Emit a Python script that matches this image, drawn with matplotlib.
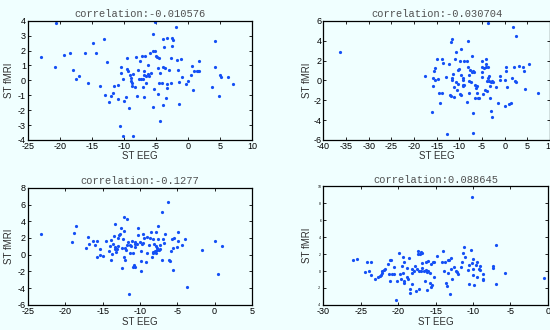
"""Four ST EEG vs ST fMRI scatter panels with correlation titles."""

import matplotlib
matplotlib.use("Agg")
import matplotlib.pyplot as plt

BG = "#f0ffff"
DOT = "#1450f5"

# panel 1
eeg1 = [-22.9, -20.6, -20.8, -19.4, -18.4, -17.9, -17.5, -17.1, -15.7, -16.1, -14.9, -14.3,
        -13.7, -13.2, -12.9, -12.6, -12.3, -12.0, -11.7, -11.5, -11.0, -11.0, -10.7, -10.4,
        -10.4, -10.2, -10.1, -9.95, -9.74, -9.53, -9.48, -9.43, -9.27, -9.06, -8.9, -8.85,
        -8.75, -8.7, -8.65, -8.6, -8.33, -8.18, -8.0, -7.86, -7.7, -7.55, -7.3, -7.2, -7.1,
        -7.0, -6.9, -6.8, -6.8, -6.7, -6.6, -6.5, -6.3, -6.25, -6.15, -6.0, -5.7, -5.5, -5.4,
        -5.4, -5.3, -5.2, -5.1, -4.95, -4.8, -4.7, -4.7, -4.6, -4.5, -4.4, -4.3, -4.1, -3.96,
        -3.86, -3.86, -3.7, -3.6, -3.4, -3.33, -3.33, -3.2, -3.0, -2.7, -2.6, -2.5, -2.5,
        -2.4, -1.9, -1.7, -1.6, -1.4, -1.35, -1.15, -0.9, -0.26, 0.05, 0.47, 0.68, 0.83, 0.99,
        1.35, 1.5, 1.7, 1.77, 3.75, 4.2, 4.3, 4.9, 5.05, 5.16, 6.25, 7.0]
fmri1 = [1.56, 3.84, 0.91, 1.67, 1.83, 0.68, 0.12, 0.28, -0.17, 1.87, 2.5, 1.87,
         -0.37, 2.77, -1.0, 1.22, -1.42, -1.02, -0.84, -0.41, -1.22, -0.3, -3.04, 0.5,
         0.89, -3.73, 0.1, -1.36, -1.13, 1.47, 0.77, 0.64, -1.85, 0.35, 0.15, -0.06,
         -0.19, -0.41, 0.41, -3.73, -0.44, 1.6, -1.06, 0.68, 0.12, 1.27, 0.08, 1.63, -0.44,
         0.06, 0.39, -1.13, 0.64, 1.63, -0.17, 0.3, 1.02, 0.44, 0.26, 1.87, 0.48, 2.0, -1.76,
         3.1, -0.6, 1.94, 3.93, 1.65, 1.56, -0.93, 0.82, -0.19, 1.49, 0.48, -2.7, -0.19, 2.79,
         -1.67, 0.93, 2.25, 0.8, -1.2, 2.86, -0.24, -0.48, 0.71, -0.15, 1.47, 2.28, 2.84,
         2.72, 3.6, 1.38, 0.68, -1.56, -0.1, 1.45, 0.21, -0.26, -0.06, 0.37, 0.95, -0.64, 0.64,
         0.62, 0.62, 0.62, 1.31, -0.44, 0.89, 2.66, -1.02, 0.33, 0.21, 0.21, -0.26]

# panel 2
eeg2 = [-36.3, -17.5, -16.0, -15.8, -15.9, -15.6, -15.3, -15.4, -15.0, -14.7, -14.4, -14.3,
        -13.9, -13.8, -13.6, -12.9, -12.7, -12.3, -12.1, -11.9, -11.9, -11.7, -11.6, -11.6,
        -11.5, -11.2, -11.1, -10.9, -10.7, -10.7, -10.6, -10.4, -10.4, -10.1, -9.9, -9.85,
        -9.7, -9.6, -9.6, -9.3, -9.26, -9.1, -9.1, -9.0, -8.9, -8.4, -8.3, -8.2, -8.0, -7.8,
        -7.8, -7.8, -7.6, -7.4, -7.3, -7.2, -7.1, -7.0, -6.96, -6.8, -6.6, -6.6, -6.4, -6.15,
        -6.0, -5.8, -5.6, -5.1, -5.0, -4.9, -4.9, -4.7, -4.5, -4.4, -4.2, -4.15, -4.1, -4.0,
        -3.9, -3.7, -3.7, -3.6, -3.55, -3.4, -3.3, -3.2, -3.1, -3.0, -2.8, -2.7, -2.6, -1.85,
        -1.4, -1.1, -0.96, 0.0, 0.0, 0.3, 0.37, 0.44, 1.0, 1.5, 1.7, 1.85, 2.15, 2.2, 2.6,
        2.6, 3.1, 4.15, 4.3, 4.4, 5.26, 7.4]
fmri2 = [2.89, 0.46, -3.16, -0.52, 0.22, 0.93, 1.23, 0.05, 2.14, 0.15, -1.27, -2.28,
         2.11, -1.27, 1.74, 0.29, -5.39, 1.67, -1.47, -1.57, 3.87, 0.02, 0.25, 4.2,
         0.63, -1.68, -0.62, 2.18, -0.15, 2.89, -0.93, -0.32, 1.03, 1.17, 1.94, -1.37,
         0.49, 3.19, -1.44, -0.52, 0.08, -0.46, 0.19, 1.94, -0.46, 1.94, -2.15, 1.3, 4.0, 0.49,
         -1.27, -0.08, 1.0, -0.12, 2.45, 0.86, -3.3, 0.93, -5.32, 0.83, -0.46, -1.8, -0.73, -1.3,
         -0.52, -1.77, -1.77, 0.86, 1.98, 1.37, 0.35, -1.37, 1.27, -1.0, 2.11, 1.64, 1.33, -1.1,
         -0.02, 1.37, 0.22, 5.73, -0.05, 0.42, -0.52, -1.8, -3.1, -0.15, -0.02, -3.7, -0.12, -0.63,
         -2.31, 0.42, 0.05, 0.0, -2.55, 0.9, 1.3, -0.63, -2.38, -2.28, 0.19, 5.39, 1.37, -0.05, 4.48,
         -0.15, 1.47, 1.37, 0.9, -0.86, 1.64, -1.27]

# panel 3
eeg3 = [-23.2, -19.15, -18.9, -18.6, -17.3, -17.0, -16.8, -16.3, -16.0, -15.8, -15.7, -15.4,
        -15.3, -14.9, -14.5, -14.2, -14.0, -13.9, -13.9, -13.7, -13.6, -13.4, -13.5, -13.35,
        -13.3, -13.2, -13.1, -13.0, -13.0, -12.8, -12.7, -12.5, -12.4, -12.4, -12.3, -12.2,
        -12.2, -12.1, -12.0, -11.95, -11.9, -11.8, -11.7, -11.65, -11.5, -11.4, -11.3, -11.2,
        -11.1, -11.0, -10.9, -10.8, -10.7, -10.7, -10.6, -10.6, -10.45, -10.3, -10.2, -10.0,
        -9.9, -9.8, -9.8, -9.7, -9.6, -9.55, -9.4, -9.2, -9.06, -9.0, -8.8, -8.65, -8.5, -8.4,
        -8.3, -8.2, -8.2, -8.1, -8.0, -7.9, -7.85, -7.8, -7.75, -7.7, -7.6, -7.6, -7.5, -7.35,
        -7.3, -7.1, -7.0, -6.95, -6.8, -6.65, -6.3, -6.1, -6.0, -5.9, -5.7, -5.6, -5.6, -5.45,
        -5.0, -4.9, -4.9, -4.4, -3.9, -3.75, -1.7, 0.04, 0.45, 1.0]
fmri3 = [2.49, 1.5, 2.54, 3.41, 0.86, 2.1, 1.3, 1.58, 1.18, 1.66, -0.33, 0.0,
         0.7, -0.17, 1.58, 0.46, 1.06, 1.7, -0.62, 0.06, 1.26, 3.65, 2.21, 0.66,
         0.98, 0.38, 0.7, 1.94, 1.02, 2.37, 2.49, 3.17, 0.78, -1.6, 1.9, 2.89,
         4.49, -0.22, 0.86, -0.58, 0.58, 4.21, 1.14, 1.5, -4.73, 1.18, 0.26, 1.02,
         1.62, 0.26, -1.5, -1.18, 0.98, 1.26, 1.5, -1.46, 1.3, 3.17, 2.37, 1.54,
         0.46, -0.78, -1.98, 1.3, 2.45, 1.38, 2.02, -0.82, 0.26, 2.06, 1.18, 1.98, 2.77, -0.22,
         0.18, 0.34, 1.86, 1.26, 0.46, 0.22, 2.77, 1.02, 0.54, 0.86, 1.9, 3.49, 0.62, 0.7,
         1.22, 5.09, -0.62, 1.9, 1.34, 2.53, 6.25, -0.58, -0.74, 0.42, 1.9, -1.86, 0.78, 1.94,
         0.9, 1.66, 2.77, 1.22, 1.86, -3.89, 0.62, 1.66, -2.26, 1.1]

# panel 4
eeg4 = [-26.1, -25.5, -24.4, -24.2, -23.9, -23.7, -23.6, -23.1, -22.7, -22.5, -22.3, -22.2,
        -22.1, -21.9, -21.75, -21.3, -21.2, -21.1, -21.1, -20.9, -20.8, -20.6, -20.5, -20.3,
        -20.2, -19.9, -19.7, -19.6, -19.5, -19.35, -19.3, -19.25, -19.2, -19.2, -18.85, -18.8,
        -18.7, -18.5, -18.45, -18.4, -18.2, -18.2, -18.1, -17.95, -17.7, -17.6, -17.5, -17.4,
        -17.3, -17.25, -17.2, -17.1, -17.0, -17.0, -16.85, -16.8, -16.8, -16.5, -16.45, -16.35,
        -16.3, -16.2, -16.2, -16.05, -15.95, -15.8, -15.8, -15.65, -15.55, -15.5, -15.4, -15.25,
        -15.15, -14.85, -14.1, -14.0, -13.85, -13.7, -13.55, -13.45, -13.4, -13.3, -13.2, -13.1,
        -13.0, -12.95, -12.75, -12.6, -12.3, -12.1, -12.0, -11.6, -11.45, -11.4, -11.25, -11.1,
        -10.7, -10.55, -10.5, -10.3, -10.2, -10.1, -10.05, -10.0, -9.95, -9.9, -9.6, -9.5, -9.4,
        -9.2, -9.1, -9.0, -8.65, -8.65, -8.6, -7.35, -7.3, -6.9, -6.9, -5.7, -0.5]
fmri4 = [1.32, 1.44, -0.1, 1.13, 0.0, -0.49, 1.05, -0.88, -0.69, -0.53, -0.41, -0.25,
         0.02, 0.18, 0.26, 0.85, -0.29, -1.2, 1.27, 1.32, -0.33, 0.46, -0.33, -3.4,
         -1.12, 2.19, -0.37, -0.88, 0.58, -0.25, 1.67, -1.36, -1.16, 1.13, -0.73, 0.38,
         -0.96, 1.59, -2.58, -2.1, 0.22, -0.25, -1.56, 0.06, 0.62, -2.3, 0.3, 2.07,
         2.39, 0.02, -2.1, 1.99, 2.31, 0.02, 1.01, 2.11, 0.38, 0.02, -1.12, 1.09,
         0.14, -2.22, -0.13, 0.02, 1.17, -1.4, -0.17, 0.89, -1.87, -1.68, 1.09, -0.69,
         1.13, 1.84, 1.13, 2.43, 0.02, 1.13, -1.36, -1.76, -0.17, 1.27, 1.36, -2.74,
         1.55, 0.3, -0.92, 0.46, -0.05, -0.1, -0.33, 0.5, 1.13, 2.11, 2.86, 1.71,
         0.18, -1.56, 0.73, 2.54, 8.74, 1.01, -0.45, 1.48, 0.22, -1.6, 0.7, 1.13, -0.73,
         0.3, 0.62, 0.1, -0.33, -0.96, -1.08, 0.38, 0.62, 3.05, -1.52, -0.25, -0.8]

titles = ["correlation:-0.010576", "correlation:-0.030704",
          "correlation:-0.1277", "correlation:0.088645"]

plt.rcParams["axes.unicode_minus"] = False
plt.rcParams["font.family"] = ["Liberation Sans", "DejaVu Sans"]

fig = plt.figure(figsize=(5.5, 3.3), dpi=100, facecolor=BG)

# [left, bottom, width, height] in figure fractions
positions = [
    [0.051, 0.576, 0.407, 0.361],
    [0.588, 0.576, 0.412, 0.361],
    [0.051, 0.076, 0.407, 0.355],
    [0.588, 0.076, 0.408, 0.359],
]
# x range, y range, y tick label size, ylabel x, xlabel y (axes coords)
panels = [
    (eeg1, fmri1, (-25, 10, 5), (-4, 4, 1), 6.5, -0.062, -0.095),
    (eeg2, fmri2, (-40, 10, 5), (-6, 6, 2), 6.5, -0.049, -0.095),
    (eeg3, fmri3, (-25, 5, 5), (-6, 8, 2), 6.5, -0.062, -0.10),
    (eeg4, fmri4, (-30, 0, 5), (-4, 10, 2), 2.5, -0.049, -0.10),
]

for pos, (xs, ys, xr, yr, ysize, ylab_x, xlab_y), title in zip(positions, panels, titles):
    ax = fig.add_axes(pos, facecolor=BG)
    ax.plot(xs, ys, "o", ms=2.3, mec="none", color=DOT)
    ax.set_xlim(xr[0], xr[1])
    ax.set_ylim(yr[0], yr[1])
    ax.set_xticks(range(xr[0], xr[1] + 1, xr[2]))
    ax.set_yticks(range(yr[0], yr[1] + 1, yr[2]))
    ax.tick_params(direction="in", length=2, width=0.6, top=True, right=True,
                   pad=1.5, colors="black")
    ax.tick_params(axis="x", labelsize=6.5)
    ax.tick_params(axis="y", labelsize=ysize)
    for s in ax.spines.values():
        s.set_linewidth(0.9)
    ax.set_title(title, family="Liberation Mono", fontsize=7.5, color="#505050", pad=2.5)
    ax.set_xlabel("ST EEG", fontsize=7, color="#303030")
    ax.set_ylabel("ST fMRI", fontsize=7, color="#303030")
    ax.xaxis.set_label_coords(0.5, xlab_y)
    ax.yaxis.set_label_coords(ylab_x, 0.5)

fig.savefig("out.png", dpi=100, facecolor=BG)
